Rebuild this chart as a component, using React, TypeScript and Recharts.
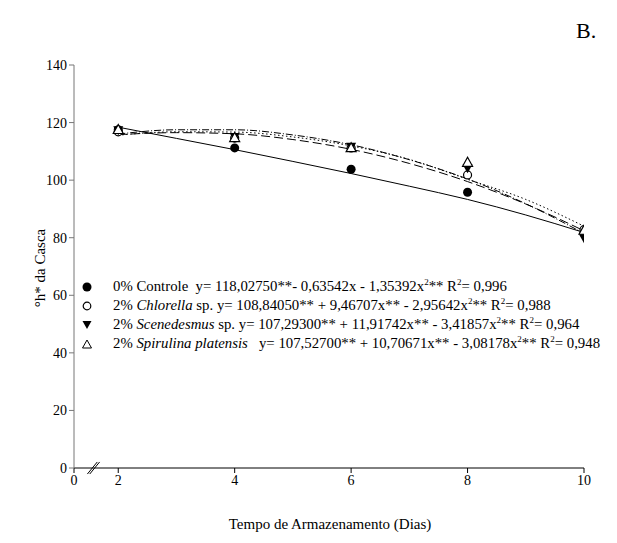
import React from "react";
import {
  ComposedChart,
  Line,
  Scatter,
  XAxis,
  YAxis,
  ReferenceLine,
} from "recharts";

// storage days where samples were measured
const days = [2, 4, 6, 8, 10];
const controle = [117.5, 111.2, 103.8, 95.8, 81.5];
const chlorella = [116.8, 114.6, 111.2, 101.8, 82.8];
const scenedesmus = [117.3, 115.0, 111.6, 104.1, 79.8];
const spirulina = [117.6, 114.8, 111.3, 106.2, 82.6];

// fitted curves
const trendDays = [2, 3, 4, 5, 6, 7, 8, 9, 10];
const controleTrend = [118.4, 114.5, 110.6, 106.5, 102.3, 97.9, 93.3, 87.9, 81.8];
const chlorellaTrend = [115.8, 116.5, 116.1, 114.1, 110.7, 105.8, 99.5, 91.7, 82.4];
const scenedesmusTrend = [116.0, 117.5, 117.5, 115.7, 112.3, 107.1, 100.4, 91.8, 81.5];
const spirulinaTrend = [115.6, 116.8, 116.7, 115.0, 111.9, 107.2, 100.3, 93.3, 84.0];

const yTicks = [0, 20, 40, 60, 80, 100, 120, 140];
const xTicks = [1.24, 2, 4, 6, 8, 10];

const pts = (vals: number[]) => days.map((d, i) => ({ day: d, v: vals[i] }));
const trend = (vals: number[]) => trendDays.map((d, i) => ({ day: d, v: vals[i] }));

const FONT = "'Liberation Serif', 'Times New Roman', serif";

const FilledCircle = (p: any) => <circle cx={p.cx} cy={p.cy} r={4.5} fill="#000" />;
const OpenCircle = (p: any) => (
  <circle cx={p.cx} cy={p.cy} r={4} fill="#fff" stroke="#000" strokeWidth={1.2} />
);
const DownTriangle = (p: any) => (
  <path d={`M${p.cx - 5},${p.cy - 4} L${p.cx + 5},${p.cy - 4} L${p.cx},${p.cy + 5} Z`} fill="#000" />
);
const UpTriangle = (p: any) => (
  <path
    d={`M${p.cx - 5},${p.cy + 4} L${p.cx + 5},${p.cy + 4} L${p.cx},${p.cy - 5} Z`}
    fill="#fff"
    stroke="#000"
    strokeWidth={1.2}
  />
);

const legendIcon = (kind: string) => {
  let el;
  if (kind === "fc") el = <circle cx={7} cy={7} r={4.5} fill="#000" />;
  else if (kind === "oc") el = <circle cx={7} cy={7} r={3.8} fill="#fff" stroke="#000" strokeWidth={1.2} />;
  else if (kind === "dt") el = <path d="M2.5,3 L11.5,3 L7,11 Z" fill="#000" />;
  else el = <path d="M2.5,11 L11.5,11 L7,3 Z" fill="#fff" stroke="#000" strokeWidth={1} />;
  return (
    <svg width={14} height={14} style={{ position: "absolute", left: 0, top: 3 }}>
      {el}
    </svg>
  );
};

const sup = (t: string) => <sup style={{ fontSize: 9, lineHeight: 0 }}>{t}</sup>;

const legendRows = [
  {
    icon: "fc",
    name: <>0% Controle&nbsp;&nbsp;</>,
    eq: <>y= 118,02750**- 0,63542x - 1,35392x{sup("2")}** R{sup("2")}= 0,996</>,
  },
  {
    icon: "oc",
    name: <>2% <i>Chlorella</i> sp. </>,
    eq: <>y= 108,84050** + 9,46707x** - 2,95642x{sup("2")}** R{sup("2")}= 0,988</>,
  },
  {
    icon: "dt",
    name: <>2% <i>Scenedesmus</i> sp. </>,
    eq: <>y= 107,29300** + 11,91742x** - 3,41857x{sup("2")}** R{sup("2")}= 0,964</>,
  },
  {
    icon: "ut",
    name: <>2% <i>Spirulina platensis</i>&nbsp;&nbsp;&nbsp;</>,
    eq: <>y= 107,52700** + 10,70671x** - 3,08178x{sup("2")}** R{sup("2")}= 0,948</>,
  },
];

export default function App() {
  return (
    <div
      style={{
        position: "absolute",
        left: 0,
        top: 0,
        width: 617,
        height: 543,
        overflow: "hidden",
        background: "#fff",
        fontFamily: FONT,
      }}
    >
      <ComposedChart
        width={617}
        height={543}
        margin={{ top: 65, right: 33, bottom: 45, left: 0 }}
      >
        <XAxis
          type="number"
          dataKey="day"
          domain={[1.24, 10]}
          ticks={xTicks}
          allowDataOverflow
          tickFormatter={(v: number) => (v < 2 ? "0" : String(v))}
          height={30}
          stroke="#000"
          tickSize={5}
          tick={{ fill: "#000", fontFamily: FONT, fontSize: 14 }}
        />
        <YAxis
          type="number"
          domain={[0, 140]}
          ticks={yTicks}
          width={74}
          stroke="#777"
          tickSize={5}
          tick={{ fill: "#000", fontFamily: FONT, fontSize: 14 }}
        />
        <ReferenceLine
          segment={[{ x: 1.47, y: -2.1 }, { x: 1.64, y: 2.1 }]}
          stroke="#000"
          ifOverflow="visible"
        />
        <ReferenceLine
          segment={[{ x: 1.51, y: -2.1 }, { x: 1.68, y: 2.1 }]}
          stroke="#000"
          ifOverflow="visible"
        />
        <Line data={trend(controleTrend)} dataKey="v" type="monotone" stroke="#000" strokeWidth={1} dot={false} isAnimationActive={false} />
        <Line data={trend(chlorellaTrend)} dataKey="v" type="monotone" stroke="#000" strokeWidth={1} strokeDasharray="9 4" dot={false} isAnimationActive={false} />
        <Line data={trend(scenedesmusTrend)} dataKey="v" type="monotone" stroke="#000" strokeWidth={1} strokeDasharray="7 2 1 2" dot={false} isAnimationActive={false} />
        <Line data={trend(spirulinaTrend)} dataKey="v" type="monotone" stroke="#000" strokeWidth={1} strokeDasharray="1.5 2.5" dot={false} isAnimationActive={false} />
        <Scatter data={pts(controle)} dataKey="v" shape={FilledCircle} isAnimationActive={false} />
        <Scatter data={pts(chlorella)} dataKey="v" shape={OpenCircle} isAnimationActive={false} />
        <Scatter data={pts(scenedesmus)} dataKey="v" shape={DownTriangle} isAnimationActive={false} />
        <Scatter data={pts(spirulina)} dataKey="v" shape={UpTriangle} isAnimationActive={false} />
      </ComposedChart>

      <div style={{ position: "absolute", left: 576, top: 18, fontSize: 22 }}>B.</div>

      <div
        style={{
          position: "absolute",
          left: 40,
          top: 268,
          fontSize: 15,
          whiteSpace: "nowrap",
          transform: "translate(-50%, -50%) rotate(-90deg)",
        }}
      >
        °h* da Casca
      </div>

      <div
        style={{
          position: "absolute",
          left: 330,
          top: 524,
          fontSize: 15,
          whiteSpace: "nowrap",
          transform: "translate(-50%, -50%)",
        }}
      >
        Tempo de Armazenamento (Dias)
      </div>

      <div style={{ position: "absolute", left: 80, top: 277, fontSize: 14.8 }}>
        {legendRows.map((r, i) => (
          <div
            key={i}
            style={{ position: "relative", height: 19, lineHeight: "19px", whiteSpace: "nowrap" }}
          >
            {legendIcon(r.icon)}
            <span style={{ position: "absolute", left: 33 }}>
              {r.name}
              {r.eq}
            </span>
          </div>
        ))}
      </div>
    </div>
  );
}
